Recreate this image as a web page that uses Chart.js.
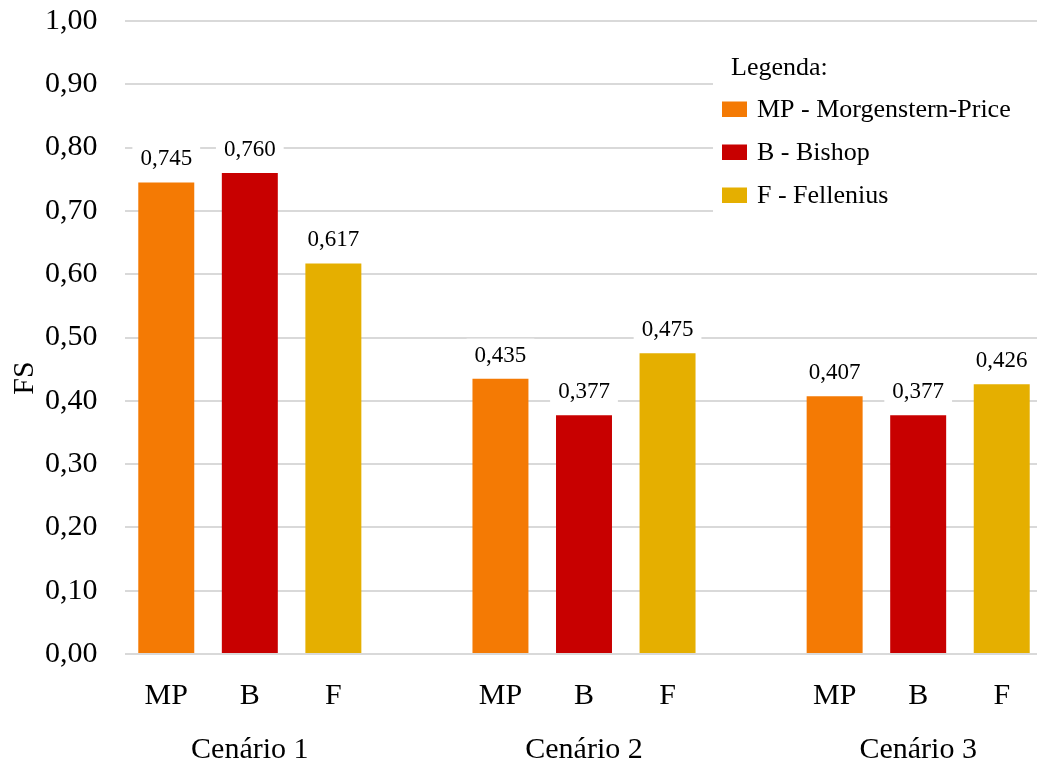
<!DOCTYPE html>
<html>
<head>
<meta charset="utf-8">
<script src="https://cdn.jsdelivr.net/npm/chart.js@4.4.1/dist/chart.umd.min.js"></script>
<style>
  html, body { margin: 0; padding: 0; background: #fff; overflow: hidden; }
  #wrap { position: relative; width: 1045px; height: 762px; }
</style>
</head>
<body>
<div id="wrap"><canvas id="chart"></canvas></div>
<script>
// ── Data ─────────────────────────────────────────────────────────────────────
const methods     = ['MP', 'B', 'F'];
const methodNames = ['MP - Morgenstern-Price', 'B - Bishop', 'F - Fellenius'];
const scenarios   = ['Cenário 1', 'Cenário 2', 'Cenário 3'];
const fsMP        = [0.745, 0.435, 0.407];
const fsB         = [0.760, 0.377, 0.377];
const fsF         = [0.617, 0.475, 0.426];
const methodColors = ['#F47A04', '#C80000', '#E5AF00'];

const FONT = '"Liberation Serif", "Times New Roman", serif';
const fmt = (v, d) => v.toFixed(d).replace('.', ',');

// one empty slot between scenarios
const slotLabels  = [];
const groupLabels = [];
scenarios.forEach((s, i) => {
    if (i > 0) { slotLabels.push(''); groupLabels.push(''); }
    methods.forEach((m, j) => { slotLabels.push(m); groupLabels.push(j === 1 ? s : ''); });
});

const series = [fsMP, fsB, fsF];
const datasets = methods.map((m, j) => {
    const data = [];
    scenarios.forEach((s, i) => {
        if (i > 0) data.push(null);
        methods.forEach((_, k) => data.push(k === j ? series[j][i] : null));
    });
    return {
        label: methodNames[j],
        data,
        backgroundColor: methodColors[j],
        grouped: false,
        barPercentage: 0.67,
        categoryPercentage: 1,
    };
});

// ── Plugins ──────────────────────────────────────────────────────────────────
const valueLabels = {
    id: 'valueLabels',
    afterDatasetsDraw(chart) {
        const ctx = chart.ctx;
        ctx.save();
        ctx.font = `23px ${FONT}`;
        ctx.textAlign = 'center';
        ctx.textBaseline = 'alphabetic';
        chart.data.datasets.forEach((ds, di) => {
            chart.getDatasetMeta(di).data.forEach((bar, i) => {
                const v = ds.data[i];
                if (v == null) return;
                const txt = fmt(v, 3);
                const w = ctx.measureText(txt).width;
                const y = bar.y - 17;
                ctx.fillStyle = '#fff';
                ctx.fillRect(bar.x - w / 2 - 8, y - 23, w + 16, 28);
                ctx.fillStyle = '#000';
                ctx.fillText(txt, bar.x, y);
            });
        });
        ctx.restore();
    }
};

const sideLegend = {
    id: 'sideLegend',
    afterDraw(chart) {
        const ctx = chart.ctx;
        ctx.save();
        ctx.fillStyle = '#fff';
        ctx.fillRect(713, 45, 340, 172);
        ctx.font = `26px ${FONT}`;
        ctx.fillStyle = '#000';
        ctx.textAlign = 'left';
        ctx.textBaseline = 'alphabetic';
        ctx.fillText('Legenda:', 731, 75);
        chart.data.datasets.forEach((ds, i) => {
            const base = 117 + i * 43;
            ctx.fillStyle = ds.backgroundColor;
            ctx.fillRect(722, base - 15.5, 25, 15.5);
            ctx.fillStyle = '#000';
            ctx.fillText(ds.label, 757, base);
        });
        // axis title
        ctx.font = `30px ${FONT}`;
        ctx.translate(33, 378);
        ctx.rotate(-Math.PI / 2);
        ctx.textAlign = 'center';
        ctx.fillText('FS', 0, 0);
        ctx.restore();
    }
};

// ── Chart ────────────────────────────────────────────────────────────────────
const tickFont = { family: FONT, size: 30 };

new Chart(document.getElementById('chart'), {
    type: 'bar',
    data: { labels: slotLabels, datasets },
    options: {
        responsive: true,
        maintainAspectRatio: false,
        animation: false,
        layout: { padding: { top: 21, left: 0, right: 1.5, bottom: 0 } },
        plugins: { legend: { display: false }, tooltip: { enabled: false } },
        scales: {
            x: {
                grid: { display: false },
                border: { display: false },
                ticks: { font: tickFont, color: '#000', padding: 16, autoSkip: false, maxRotation: 0 },
                afterFit: s => { s.height = 57; },
            },
            x2: {
                type: 'category',
                position: 'bottom',
                labels: groupLabels,
                offset: true,
                grid: { display: false, drawTicks: false },
                border: { display: false },
                ticks: { font: tickFont, color: '#000', padding: 21, autoSkip: false, maxRotation: 0 },
                afterFit: s => { s.height = 51; },
            },
            y: {
                min: 0,
                max: 1,
                grid: { color: '#D9D9D9', lineWidth: 2, drawTicks: false },
                border: { display: false },
                ticks: {
                    stepSize: 0.1,
                    font: tickFont,
                    color: '#000',
                    padding: 27,
                    callback: v => fmt(v, 2),
                },
                afterFit: s => { s.width = 124.5; s.paddingTop = 0; s.paddingBottom = 0; },
            },
        },
    },
    plugins: [valueLabels, sideLegend],
});
</script>
</body>
</html>
